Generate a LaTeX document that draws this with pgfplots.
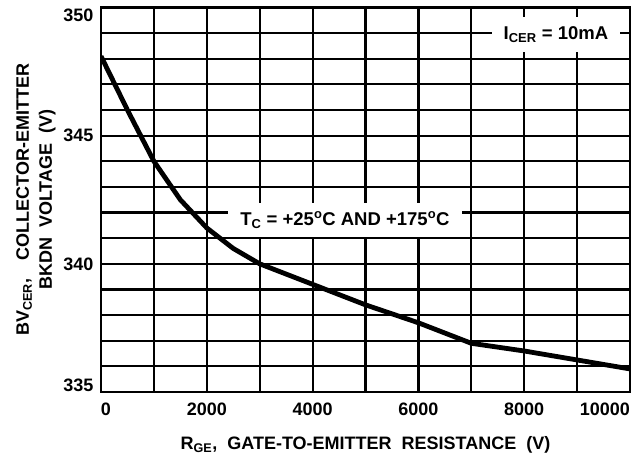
\documentclass[border=0pt]{standalone}
\usepackage{fontspec}
\setmainfont{Liberation Sans}
\usepackage{pgfplots}
\pgfplotsset{compat=1.18}

\newcommand{\lbl}{\bfseries\fontsize{18pt}{21pt}\selectfont}
\newcommand{\ylbl}{\bfseries\fontsize{18pt}{23pt}\selectfont}
\newcommand{\note}{\bfseries\fontsize{18.5pt}{21pt}\selectfont}

\begin{document}
\begin{tikzpicture}
\begin{axis}[
    scale only axis,
    width=529pt, height=384.5pt,
    xmin=0, xmax=10000,
    ymin=335, ymax=350,
    scaled x ticks=false,
    xtick={0,1000,...,10000},
    xticklabels={\rlap{0},,2000,,4000,,6000,,8000,,\llap{10000}},
    ytick={335,...,350},
    yticklabels={\raisebox{7pt}[\height][\depth]{335},,,,,340,,,,,345,,,,,\raisebox{-8pt}[\height][\depth]{350}},
    /pgf/number format/assume math mode=true,
    major tick length=0pt,
    grid=major,
    major grid style={black, line width=2.2pt},
    axis line style={black, line width=2.4pt},
    tick label style={font=\lbl},
    xticklabel style={yshift=-7pt},
    yticklabel style={xshift=-4pt},
    xlabel={R\textsubscript{GE},\ \ GATE-TO-EMITTER\ \ RESISTANCE\ \ (V)},
    xlabel style={font=\lbl, at={(axis description cs:0.5,0)}, anchor=north, yshift=-41pt},
    ylabel={BV\textsubscript{CER},\hspace{1em}COLLECTOR-EMITTER\\BKDN\ \ VOLTAGE\ \ (V)},
    ylabel style={font=\ylbl, align=center, at={(axis description cs:-0.079,0.5)}, anchor=south},
]
\addplot[black, line width=4.8pt, line join=round] coordinates {
    (0,348.1) (500,346.0) (1000,344.0) (1500,342.5) (2000,341.4)
    (2500,340.6) (3000,340.0) (4000,339.2) (5000,338.4)
    (6000,337.7) (7000,336.9) (8000,336.6) (9000,336.25) (10000,335.9)
};
\node[fill=white, font=\note, inner xsep=12pt, minimum height=35pt] at (axis cs:8600,348.95) {I\textsubscript{CER} = 10mA};
\node[fill=white, font=\note, inner xsep=12pt, minimum height=34pt] at (axis cs:4612,341.7) {T\textsubscript{C} = +25\textsuperscript{o}C AND +175\textsuperscript{o}C};
\end{axis}
\pgfresetboundingbox
\path ([shift={(-101pt,-68pt)}]current axis.south west) rectangle ([shift={(14pt,7.5pt)}]current axis.north east);
\end{tikzpicture}
\end{document}
